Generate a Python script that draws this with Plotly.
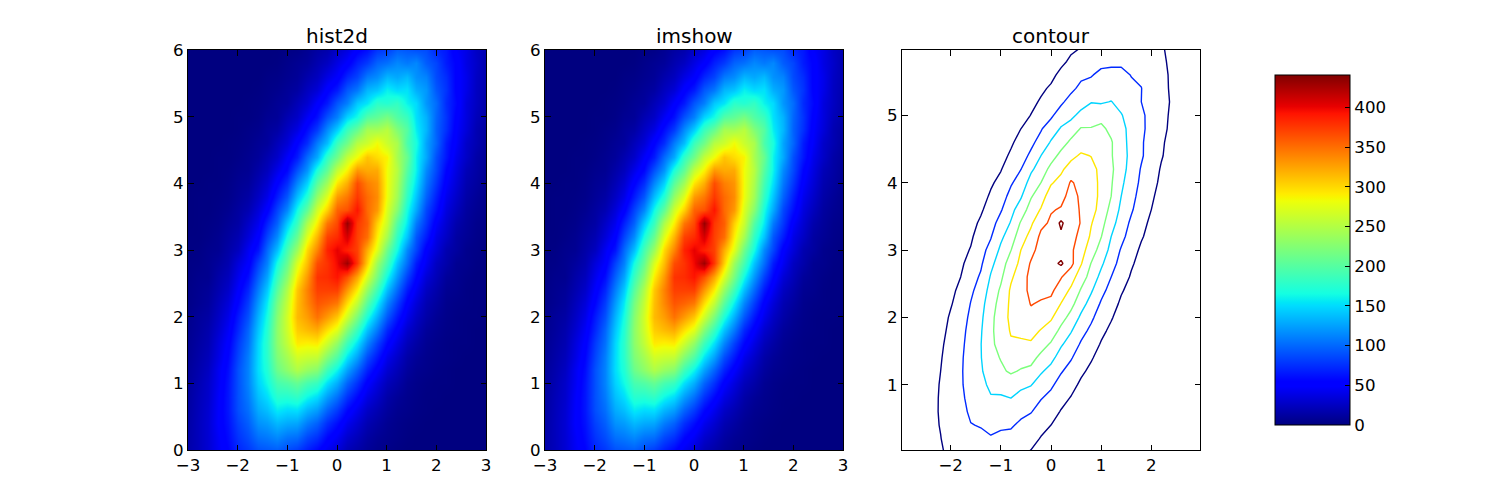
import plotly.graph_objects as go

x_centers = [-3.0,-2.8,-2.6,-2.4,-2.2,-2.0,-1.8,-1.6,-1.4,-1.2,-1.0,-0.8,-0.6,-0.4,-0.2,0.0,0.2,0.4,0.6,0.8,1.0,1.2,1.4,1.6,1.8,2.0,2.2,2.4,2.6,2.8,3.0]
y_centers = [0.0,0.2,0.4,0.6,0.8,1.0,1.2,1.4,1.6,1.8,2.0,2.2,2.4,2.6,2.8,3.0,3.2,3.4,3.6,3.8,4.0,4.2,4.4,4.6,4.8,5.0,5.2,5.4,5.6,5.8,6.0]

# Bin counts estimated by eye from the reference, bottom row first
counts = [
[16,23,32,45,55,71,79,90,93,96,88,81,68,57,43,34,21,15,9,5,3,1,0,0,0,0,0,0,0,0,0],
[15,23,32,46,59,77,88,104,108,115,106,103,86,76,57,45,30,22,13,8,5,3,1,0,0,0,0,0,0,0,0],
[14,23,32,49,62,83,96,118,123,135,129,127,109,97,75,60,42,31,19,13,7,4,2,1,0,0,0,0,0,0,0],
[13,22,31,48,64,89,103,129,138,156,150,152,134,123,98,80,57,42,27,19,11,6,4,2,1,0,0,0,0,0,0],
[12,21,29,47,64,90,108,138,151,175,174,180,162,150,123,103,76,57,38,27,15,9,5,3,1,1,0,0,0,0,0],
[11,19,28,44,63,90,112,146,164,192,198,208,192,183,152,130,98,76,51,36,22,15,7,4,2,1,1,0,0,0,0],
[10,17,25,43,60,90,112,151,172,212,230,248,235,226,187,160,125,98,69,49,31,21,11,6,4,2,1,0,0,0,0],
[8,15,22,38,56,85,110,150,177,222,243,267,262,259,225,197,154,125,88,65,41,28,15,9,5,3,2,1,0,0,0],
[7,13,19,35,51,80,104,148,178,229,258,292,289,292,264,233,187,153,113,83,56,38,22,14,7,4,2,1,1,0,0],
[6,11,17,30,46,72,99,141,174,230,265,305,314,321,296,274,224,184,139,107,71,50,30,20,10,6,3,2,1,0,0],
[5,10,14,26,40,66,90,133,167,226,267,314,328,348,329,308,264,220,169,131,92,64,41,26,15,8,4,2,1,1,0],
[3,7,11,22,34,56,81,122,157,217,260,312,338,362,355,345,298,258,202,158,113,81,51,34,19,12,5,3,2,1,1],
[3,6,9,18,28,49,71,110,143,202,249,308,341,372,372,372,330,290,234,187,137,100,65,44,25,16,7,5,2,1,1],
[2,5,6,15,23,42,60,97,127,185,229,291,330,378,381,392,364,324,269,217,163,120,82,55,33,21,10,6,3,1,1],
[2,3,6,11,18,35,49,83,111,166,209,271,313,366,378,398,430,376,304,238,191,140,102,66,44,25,16,7,5,2,1],
[1,2,5,7,15,24,44,63,101,138,192,238,300,340,386,402,386,372,320,274,212,165,114,84,50,34,18,12,5,3,1],
[1,1,3,6,12,19,34,52,85,116,168,210,274,318,372,382,408,372,350,290,242,180,139,92,66,39,26,13,8,4,2],
[0,1,2,4,9,14,27,42,69,97,143,184,246,290,346,368,432,376,358,304,262,199,156,108,78,48,31,17,10,5,3],
[0,1,1,3,6,12,19,34,52,84,114,164,206,266,304,356,364,392,352,330,270,226,166,128,85,60,36,23,12,7,4],
[0,1,1,2,4,9,14,26,40,67,93,138,174,234,274,330,346,376,352,336,280,240,180,140,97,68,42,28,15,9,4],
[0,0,1,1,3,7,10,20,31,53,74,113,146,202,240,294,320,366,342,332,282,246,190,152,107,78,49,33,18,12,6],
[0,0,0,1,2,5,7,15,23,40,57,90,119,170,206,258,288,330,322,322,282,252,200,160,115,86,55,37,21,14,7],
[0,0,0,1,1,3,6,10,18,28,47,66,101,129,180,214,258,282,310,298,288,244,210,160,128,89,64,41,27,15,9],
[0,0,0,0,1,2,4,8,11,22,33,54,74,109,137,186,214,252,264,284,262,246,194,168,126,99,66,47,28,19,10],
[0,0,0,0,0,1,3,5,10,14,26,38,60,81,116,146,186,210,244,244,254,224,200,158,134,97,75,49,34,19,12],
[0,0,0,0,0,1,1,3,7,9,19,27,45,61,90,111,147,165,198,206,218,198,184,152,132,99,77,52,36,22,15],
[0,0,0,0,0,0,1,2,4,8,11,21,31,49,65,92,110,142,154,178,174,182,160,150,120,102,73,57,36,25,15],
[0,0,0,0,0,0,0,1,3,5,9,13,24,33,52,66,93,107,134,141,159,150,153,131,121,93,77,53,40,25,17],
[0,0,0,0,0,0,0,0,2,3,6,9,17,24,38,49,71,84,108,116,134,128,136,118,112,87,74,53,41,26,18],
[0,0,0,0,0,0,0,0,0,1,4,7,10,18,25,38,50,68,80,98,104,114,108,114,95,85,66,54,38,28,17],
[0,0,0,0,0,0,0,0,0,0,2,3,7,13,17,28,37,52,61,78,83,96,93,90,88,72,65,48,39,26,19],
]

titles = ["hist2d", "imshow", "contour"]
colorbar_ticks = [0, 50, 100, 150, 200, 250, 300, 350, 400]
heat_xticks = [-3, -2, -1, 0, 1, 2, 3]
heat_yticks = [0, 1, 2, 3, 4, 5, 6]
cont_xticks = [-2, -1, 0, 1, 2]
cont_yticks = [1, 2, 3, 4, 5]

jet = [
    [0.0, "rgb(0,0,128)"], [0.11, "rgb(0,0,255)"], [0.125, "rgb(0,0,255)"],
    [0.34, "rgb(0,219,255)"], [0.35, "rgb(0,230,247)"], [0.375, "rgb(20,255,226)"],
    [0.64, "rgb(238,255,8)"], [0.65, "rgb(247,246,0)"], [0.66, "rgb(255,236,0)"],
    [0.89, "rgb(255,19,0)"], [0.91, "rgb(232,0,0)"], [1.0, "rgb(128,0,0)"],
]

W, H = 1500, 500
FONT = "DejaVu Sans"
ZMAX = 441
panels = [(188, 486), (545, 843), (902, 1200)]

fig = go.Figure()

fig.add_trace(go.Heatmap(x=x_centers, y=y_centers, z=counts, zmin=0, zmax=ZMAX, colorscale=jet,
                         zsmooth="best", showscale=False, xaxis="x", yaxis="y"))
fig.add_trace(go.Heatmap(x=x_centers, y=y_centers, z=counts, zmin=0, zmax=ZMAX, colorscale=jet,
                         zsmooth="best", xaxis="x2", yaxis="y2",
                         colorbar=dict(x=1275 / W, xanchor="left", xref="paper", y=0.5, yanchor="middle", yref="paper",
                                       thicknessmode="pixels", thickness=75, lenmode="pixels", len=350,
                                       xpad=0, ypad=0, outlinecolor="black", outlinewidth=1,
                                       ticks="inside", ticklen=5, tickwidth=0.7, tickcolor="black",
                                       tickmode="array", tickvals=colorbar_ticks,
                                       tickfont=dict(family=FONT, size=16.67, color="black"))))
fig.add_trace(go.Contour(x=x_centers, y=y_centers, z=counts, autocontour=False,
                         contours=dict(start=60, end=420, size=60, coloring="lines"),
                         colorscale=jet, showscale=False, line=dict(width=1.4, smoothing=0),
                         xaxis="x3", yaxis="y3"))


def axis(domain, rng, ticks, **extra):
    return dict(domain=domain, range=rng, tickmode="array", tickvals=ticks, ticks="inside", ticklen=5.5,
                tickwidth=0.7, tickcolor="black", showline=True, linecolor="black", linewidth=1,
                mirror="allticks", showgrid=False, zeroline=False,
                tickfont=dict(family=FONT, size=16.67, color="black"), **extra)


y_dom = [1 - 450 / H, 1 - 50 / H]
layout = dict(width=W, height=H, margin=dict(l=0, r=0, t=0, b=0, autoexpand=False),
              paper_bgcolor="white", plot_bgcolor="white", showlegend=False)
layout["xaxis"] = axis([panels[0][0] / W, panels[0][1] / W], [-3, 3], heat_xticks, anchor="y")
layout["yaxis"] = axis(y_dom, [0, 6], heat_yticks, anchor="x")
layout["xaxis2"] = axis([panels[1][0] / W, panels[1][1] / W], [-3, 3], heat_xticks, anchor="y2")
layout["yaxis2"] = axis(y_dom, [0, 6], heat_yticks, anchor="x2")
layout["xaxis3"] = axis([panels[2][0] / W, panels[2][1] / W], [-2.97, 2.97], cont_xticks, anchor="y3")
layout["yaxis3"] = axis(y_dom, [0.03, 5.97], cont_yticks, anchor="x3")
layout["annotations"] = [
    dict(text=t, xref="paper", yref="paper", x=(p[0] + p[1]) / 2 / W, y=1 - 36 / H, xanchor="center",
         yanchor="middle", showarrow=False, font=dict(family=FONT, size=20, color="black"))
    for t, p in zip(titles, panels)
]
fig.update_layout(**layout)
fig.write_html("out.html", config={"displayModeBar": False},
               post_script="document.body.style.margin='0';")
